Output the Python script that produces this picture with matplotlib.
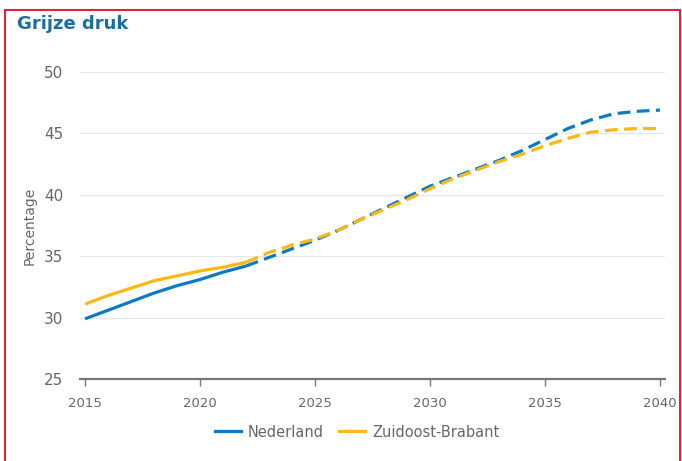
import matplotlib.pyplot as plt
from matplotlib.patches import Rectangle
from matplotlib.lines import Line2D

years = list(range(2015, 2041))
nederland = [29.9, 30.6, 31.3, 32.0, 32.6, 33.1, 33.7, 34.2, 34.9, 35.6, 36.3, 37.1, 38.0,
             38.9, 39.8, 40.7, 41.4, 42.1, 42.8, 43.6, 44.5, 45.4, 46.1, 46.6, 46.8, 46.9]
zuidoost = [31.1, 31.8, 32.4, 33.0, 33.4, 33.8, 34.1, 34.5, 35.3, 35.9, 36.4, 37.1, 38.0,
            38.8, 39.6, 40.5, 41.3, 42.0, 42.7, 43.3, 44.0, 44.6, 45.1, 45.3, 45.4, 45.4]
split_year = 2022
yticks = [25, 30, 35, 40, 45, 50]
xticks = [2015, 2020, 2025, 2030, 2035, 2040]

blue = '#0a7ac4'
orange = '#fdb813'
grey = '#666666'

fig = plt.figure(figsize=(6.82, 4.61), dpi=100)
ax = fig.add_axes([80 / 682, 1 - 379 / 461, 585 / 682, 307 / 461])

i = years.index(split_year)
for vals, col in [(nederland, blue), (zuidoost, orange)]:
    ax.plot(years[:i + 1], vals[:i + 1], color=col, lw=2.3, solid_capstyle='butt')
    ax.plot(years[i:], vals[i:], color=col, lw=2.3, dashes=(4, 2))

ax.set_xlim(2014.78, 2040.22)
ax.set_ylim(25, 50)
ax.set_yticks(yticks)
ax.set_xticks(xticks)
ax.grid(axis='y', color='#e6e6e6', lw=0.8)
ax.set_axisbelow(True)
for s in ['top', 'right', 'left']:
    ax.spines[s].set_visible(False)
ax.spines['bottom'].set_color('#777777')
ax.spines['bottom'].set_linewidth(1.6)
ax.tick_params(axis='y', length=0, pad=12, labelsize=11, labelcolor=grey)
ax.tick_params(axis='x', length=5, width=1, color='#777777', pad=8, labelsize=9.5, labelcolor=grey)
ax.set_ylabel('Percentage', color=grey, fontsize=10, labelpad=5)

handles = [Line2D([], [], color=blue, lw=2.3), Line2D([], [], color=orange, lw=2.3)]
fig.legend(handles, ['Nederland', 'Zuidoost-Brabant'], loc='center', bbox_to_anchor=(357 / 682, 1 - 432 / 461),
           ncol=2, frameon=False, fontsize=10.5, labelcolor=grey, handlelength=1.8, columnspacing=1.0,
           handletextpad=0.5)

fig.text(17 / 682, 1 - 24 / 461, 'Grijze druk', color='#1a6e9e', fontsize=13, fontweight='bold', va='center')
fig.patches.append(Rectangle((5 / 682, -0.1), 675 / 682, 1.1 - 10 / 461, transform=fig.transFigure,
                             fill=False, edgecolor='#e0223a', lw=1.5))

fig.savefig('out.png', dpi=100)
